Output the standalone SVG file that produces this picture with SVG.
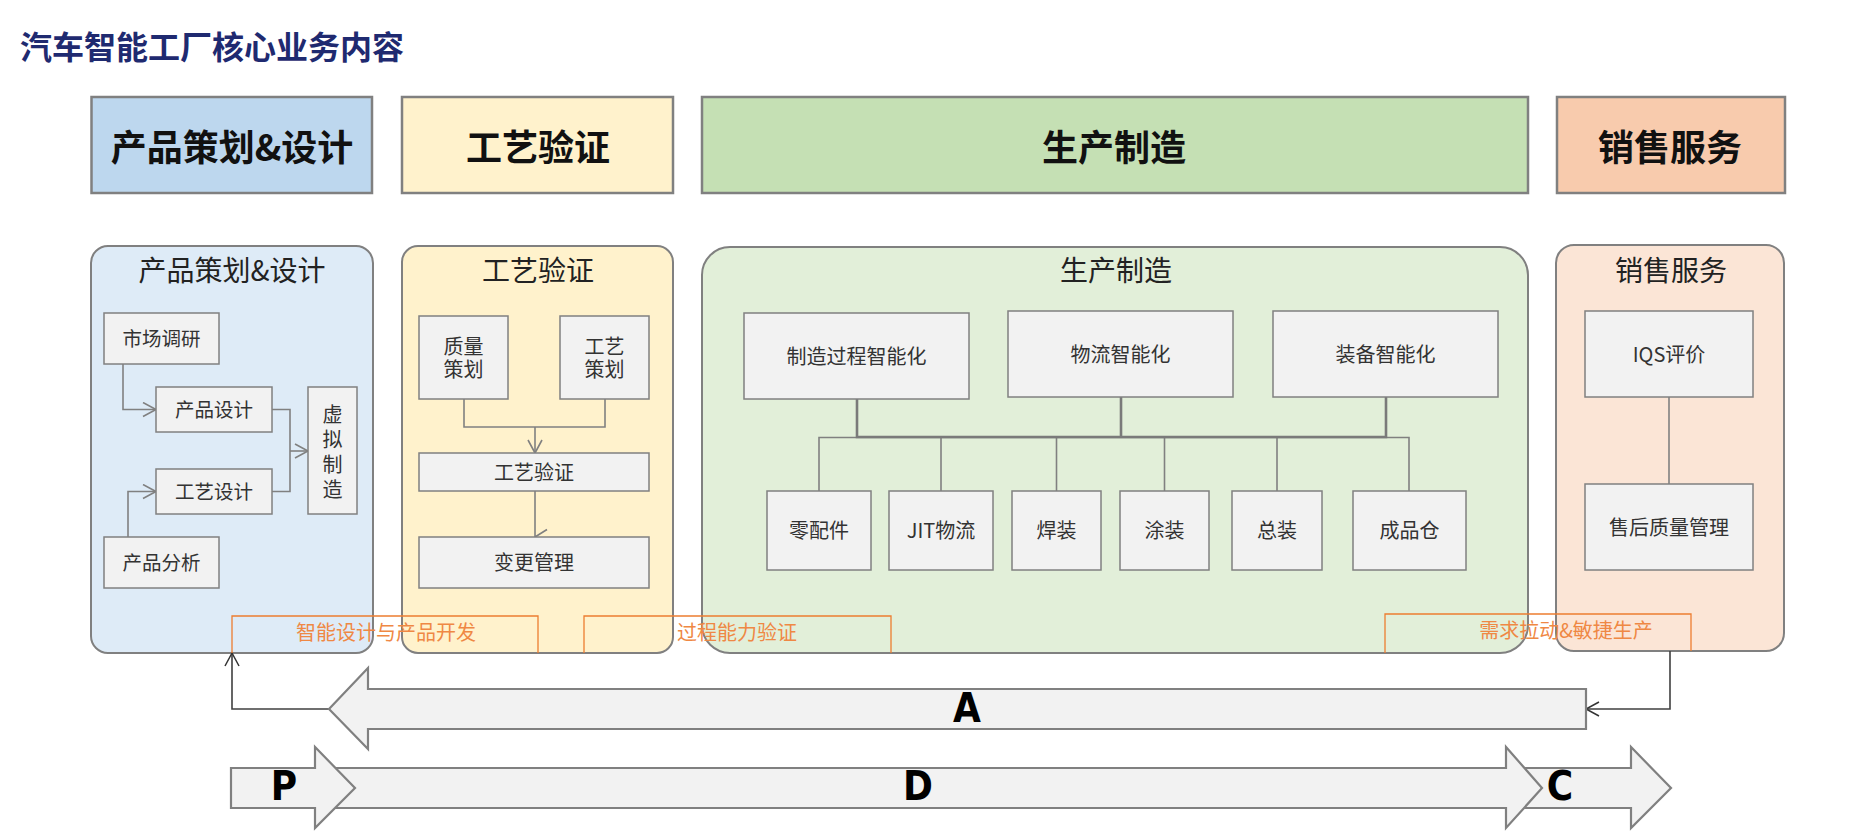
<svg xmlns="http://www.w3.org/2000/svg" width="1855" height="834" viewBox="0 0 1855 834">
<defs>
<style>
.cjk{font-family:"Noto Sans CJK SC","Noto Sans",sans-serif}
.title{font-size:32px;font-weight:bold;fill:#1f2a70}
.hdr{stroke:#808080;stroke-width:2.5}
.hdrt{font-size:36px;font-weight:bold;fill:#111;text-anchor:middle}
.cont{stroke:#808080;stroke-width:2}
.ct{font-size:28px;fill:#222;text-anchor:middle}
.box{fill:#f2f2f2;stroke:#808080;stroke-width:1.5}
.bt{font-size:20px;fill:#333;text-anchor:middle}
.bts{font-size:19.5px;fill:#333;text-anchor:middle}
.ln{fill:none;stroke:#808080;stroke-width:1.6}
.bus{fill:none;stroke:#7a7a7a;stroke-width:2.6}
.dk{fill:none;stroke:#404040;stroke-width:1.6}
.ob{fill:none;stroke:#ed7d31;stroke-width:1.3}
.ot{font-size:20px;fill:#ef8844;text-anchor:middle}
.big{fill:#f2f2f2;stroke:#808080;stroke-width:2.2}
.lt{font-family:"DejaVu Sans Condensed","Liberation Sans",sans-serif;font-size:40px;font-weight:bold;fill:#000;text-anchor:middle}
</style>
<marker id="ag" viewBox="0 0 16 16" markerWidth="16" markerHeight="16" refX="14" refY="8" orient="auto" markerUnits="userSpaceOnUse">
<path d="M1,1 L14,8 L1,15" fill="none" stroke="#808080" stroke-width="1.6"/>
</marker>
<marker id="ad" viewBox="0 0 16 16" markerWidth="16" markerHeight="16" refX="14" refY="8" orient="auto" markerUnits="userSpaceOnUse">
<path d="M1,1 L14,8 L1,15" fill="none" stroke="#333" stroke-width="1.5"/>
</marker>
</defs>
<rect width="1855" height="834" fill="#fff"/>

<text class="cjk title" x="20" y="59">汽车智能工厂核心业务内容</text>

<g id="header-1"><rect class="hdr" x="91.5" y="97" width="280.5" height="96" fill="#bdd7ee"/><text class="cjk hdrt" x="232" y="161">产品策划&amp;设计</text></g>
<g id="header-2"><rect class="hdr" x="402" y="97" width="271" height="96" fill="#fff2cc"/><text class="cjk hdrt" x="538" y="161">工艺验证</text></g>
<g id="header-3"><rect class="hdr" x="702" y="97" width="826" height="96" fill="#c5e0b4"/><text class="cjk hdrt" x="1114" y="161">生产制造</text></g>
<g id="header-4"><rect class="hdr" x="1557" y="97" width="228" height="96" fill="#f8cbad"/><text class="cjk hdrt" x="1670" y="161">销售服务</text></g>

<g id="container-1"><rect class="cont" x="91" y="246" width="282" height="407" rx="17" fill="#deebf7"/><text class="cjk ct" x="232" y="281">产品策划&amp;设计</text></g>
<g id="container-2"><rect class="cont" x="402" y="246" width="271" height="407" rx="16" fill="#fff2cc"/><text class="cjk ct" x="538" y="281">工艺验证</text></g>
<g id="container-3"><rect class="cont" x="702" y="247" width="826" height="406" rx="28" fill="#e2efd9"/><text class="cjk ct" x="1116" y="281">生产制造</text></g>
<g id="container-4"><rect class="cont" x="1556" y="245" width="228" height="406" rx="18" fill="#fbe5d6"/><text class="cjk ct" x="1671" y="281">销售服务</text></g>

<g id="connectors">
<path class="ln" d="M123,364 V409.5 H156" marker-end="url(#ag)"/>
<path class="ln" d="M128,537 V491.5 H156" marker-end="url(#ag)"/>
<path class="ln" d="M272,409.5 H290 V491.5 H272"/>
<path class="ln" d="M290,451 H308" marker-end="url(#ag)"/>
<path class="ln" d="M464,399 V427 H605 V399"/>
<path class="ln" d="M535,427 V453" marker-end="url(#ag)"/>
<path class="ln" d="M535,491 V537 M535,537 L547,529.5"/>
<path class="ln" d="M819,491 V437.5 H1409 V491"/>
<path class="ln" d="M941,491 V437.5 M1056.5,491 V437.5 M1164.5,491 V437.5 M1277,491 V437.5"/>
<path class="bus" d="M857,399 V437 H1386 V397 M1121,397 V437"/>
<path class="ln" d="M1669,397 V484"/>
<path class="dk" d="M1670,651 V709 H1586" marker-end="url(#ad)"/>
<path class="dk" d="M329,709 H232 V653" marker-end="url(#ad)"/>
</g>

<g id="market-research"><rect class="box" x="104" y="313" width="115" height="51"/><text class="cjk bts" x="161.5" y="346">市场调研</text></g>
<g id="product-design"><rect class="box" x="156" y="387" width="116" height="45"/><text class="cjk bts" x="214" y="417">产品设计</text></g>
<g id="process-design"><rect class="box" x="156" y="469" width="116" height="45"/><text class="cjk bts" x="214" y="498.5">工艺设计</text></g>
<g id="product-analysis"><rect class="box" x="104" y="537" width="115" height="51"/><text class="cjk bts" x="161.5" y="570">产品分析</text></g>
<g id="virtual-manufacturing"><rect class="box" x="308" y="387" width="49" height="127"/>
<text class="cjk bt"><tspan x="332.5" y="421.5">虚</tspan><tspan x="332.5" y="446.5">拟</tspan><tspan x="332.5" y="471.5">制</tspan><tspan x="332.5" y="496.5">造</tspan></text></g>

<g id="quality-planning"><rect class="box" x="419" y="316" width="89" height="83"/><text class="cjk bt"><tspan x="463.5" y="353.5">质量</tspan><tspan x="463.5" y="376.5">策划</tspan></text></g>
<g id="process-planning"><rect class="box" x="560" y="316" width="89" height="83"/><text class="cjk bt"><tspan x="604.5" y="353.5">工艺</tspan><tspan x="604.5" y="376.5">策划</tspan></text></g>
<g id="process-validation"><rect class="box" x="419" y="453" width="230" height="38"/><text class="cjk bt" x="534" y="479.5">工艺验证</text></g>
<g id="change-management"><rect class="box" x="419" y="537" width="230" height="51"/><text class="cjk bt" x="534" y="570">变更管理</text></g>

<g id="mfg-process-intelligence"><rect class="box" x="744" y="313" width="225" height="86"/><text class="cjk bt" x="856.5" y="363.5">制造过程智能化</text></g>
<g id="logistics-intelligence"><rect class="box" x="1008" y="311" width="225" height="86"/><text class="cjk bt" x="1120.5" y="361.5">物流智能化</text></g>
<g id="equipment-intelligence"><rect class="box" x="1273" y="311" width="225" height="86"/><text class="cjk bt" x="1385.5" y="361.5">装备智能化</text></g>
<g id="parts"><rect class="box" x="767" y="491" width="104" height="79"/><text class="cjk bt" x="819" y="538">零配件</text></g>
<g id="jit-logistics"><rect class="box" x="889" y="491" width="104" height="79"/><text class="cjk bt" x="941" y="538">JIT物流</text></g>
<g id="welding"><rect class="box" x="1012" y="491" width="89" height="79"/><text class="cjk bt" x="1056.5" y="538">焊装</text></g>
<g id="painting"><rect class="box" x="1120" y="491" width="89" height="79"/><text class="cjk bt" x="1164.5" y="538">涂装</text></g>
<g id="assembly"><rect class="box" x="1232" y="491" width="90" height="79"/><text class="cjk bt" x="1277" y="538">总装</text></g>
<g id="finished-warehouse"><rect class="box" x="1353" y="491" width="113" height="79"/><text class="cjk bt" x="1409.5" y="538">成品仓</text></g>

<g id="iqs"><rect class="box" x="1585" y="311" width="168" height="86"/><text class="cjk bt" x="1669" y="361.5">IQS评价</text></g>
<g id="after-sales"><rect class="box" x="1585" y="484" width="168" height="86"/><text class="cjk bt" x="1669" y="534.5">售后质量管理</text></g>

<g id="label-design"><path class="ob" d="M232,653 V616 H538 V653"/><text class="cjk ot" x="386" y="639.5">智能设计与产品开发</text></g>
<g id="label-capability"><path class="ob" d="M584,653 V616 H891 V653"/><text class="cjk ot" x="737" y="639.5">过程能力验证</text></g>
<g id="label-demand"><path class="ob" d="M1385,653 V614 H1691 V651"/><text class="cjk ot" x="1566" y="637.5">需求拉动&amp;敏捷生产</text></g>

<g id="arrow-A"><polygon class="big" points="329,709 368,668 368,689 1586,689 1586,729 368,729 368,749"/><text class="lt" x="967" y="722">A</text></g>
<g id="arrow-C"><polygon class="big" points="1490,768 1631,768 1631,747 1671,788 1631,828 1631,808 1490,808"/><text class="lt" x="1560" y="800">C</text></g>
<g id="arrow-D"><polygon class="big" points="300,768 1506,768 1506,747 1542,788 1506,828 1506,808 300,808"/><text class="lt" x="918" y="800">D</text></g>
<g id="arrow-P"><polygon class="big" points="231,768 315,768 315,747 355,788 315,828 315,808 231,808"/><text class="lt" x="284" y="800">P</text></g>
</svg>
